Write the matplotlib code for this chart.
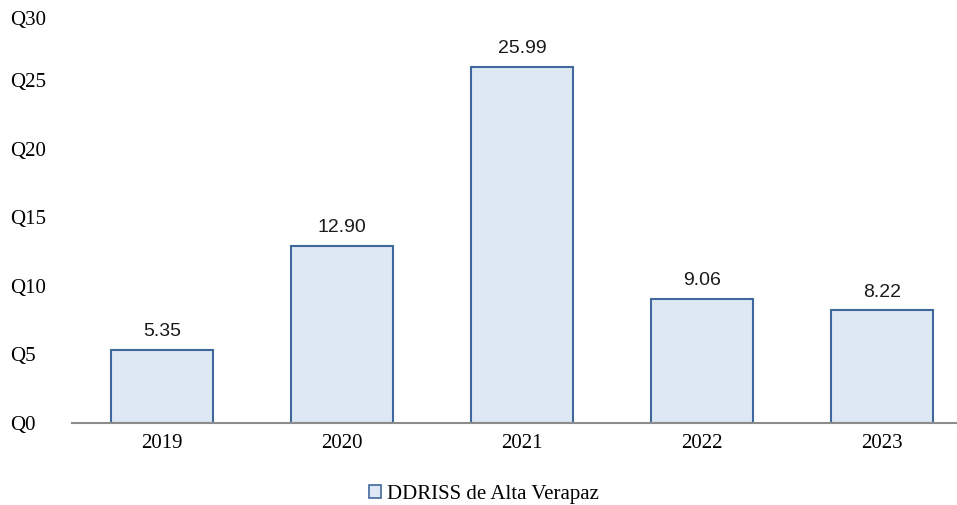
import matplotlib.pyplot as plt
import numpy as np
from matplotlib.patches import Patch

years = ['2019', '2020', '2021', '2022', '2023']
values = [5.35, 12.90, 25.99, 9.06, 8.22]
yticks = [0, 5, 10, 15, 20, 25, 30]
series_name = 'DDRISS de Alta Verapaz'

fill_col = '#DEE8F5'
edge_col = '#41689C'

fig = plt.figure(figsize=(9.57, 5.05), dpi=100)
W, H = 957, 505
top_px = 11.5
ax = fig.add_axes([72 / W, 82 / H, (W - 72) / W, (423 - top_px) / H])

x = np.arange(len(years))
ax.bar(x, values, width=0.57, color=fill_col, edgecolor=edge_col, linewidth=1.5, zorder=2)

# value labels above bars
for xi, v in zip(x, values):
    ax.annotate(f'{v:.2f}', (xi, v), xytext=(0, 7), textcoords='offset points',
                ha='center', va='bottom', fontsize=14, family='Liberation Sans', color='#1a1a1a')

ax.set_xlim(-0.5, -0.5 + (W - 72) / 180)
ax.set_ylim(0, 30)
ax.set_yticks(yticks)
ax.set_yticklabels([f'Q{t}' for t in yticks], family='Liberation Serif', fontsize=15)
ax.set_xticks(x)
ax.set_xticklabels(years, family='Liberation Serif', fontsize=15)
ax.tick_params(axis='y', length=0, pad=62 * 0.72)
ax.tick_params(axis='x', length=0, pad=8)
ylabels = ax.get_yticklabels()
for lbl in ylabels:
    lbl.set_horizontalalignment('left')
ylabels[-1].set_verticalalignment('top')
for s in ['top', 'right', 'left']:
    ax.spines[s].set_visible(False)
ax.spines['bottom'].set_color('#8c8c8c')
ax.spines['bottom'].set_linewidth(1.5)

handle = Patch(facecolor=fill_col, edgecolor=edge_col, linewidth=1.2, label=series_name)
fig.legend(handles=[handle], loc='center', bbox_to_anchor=(484 / W, 1 - 494 / H),
           frameon=False, prop={'family': 'Liberation Serif', 'size': 15},
           handlelength=0.6, handleheight=0.6, handletextpad=0.3)

fig.savefig('out.png', dpi=100)
